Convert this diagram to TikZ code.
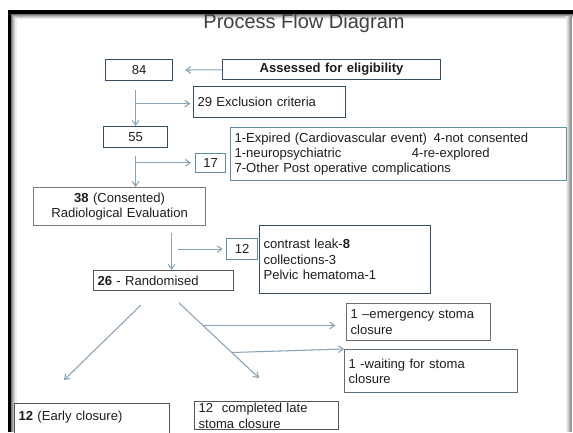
\documentclass[tikz,border=0pt]{standalone}
\usepackage{fontspec}
\setmainfont{Liberation Sans}
\usetikzlibrary{arrows.meta,positioning,calc}
\definecolor{linkcol}{RGB}{138,163,184}
\definecolor{navybox}{RGB}{52,78,106}
\definecolor{tealbox}{RGB}{96,142,162}
\definecolor{greybox}{RGB}{128,118,118}
\definecolor{darkbox}{RGB}{85,85,85}
\definecolor{slatebox}{RGB}{92,112,130}
\definecolor{txt}{RGB}{30,30,30}
\newcommand{\boxfont}{\fontsize{9.8}{11.6}\selectfont\spaceskip=3.5pt plus 1pt minus 0.5pt\relax}
\tikzset{
box/.style = {draw=navybox, fill=white, line width=0.9pt, anchor=north west, inner xsep=3pt, inner ysep=2pt, font=\boxfont, text=txt},
wd/.style = {text width=#1*0.75pt-6pt},
ht/.style = {minimum height=#1*0.75pt},
lbox/.style = {align=left},
cbox/.style = {align=center},
link/.style = {draw=linkcol, line width=0.8pt, -{Straight Barb[length=3.5pt,width=5pt]}}
}
\begin{document}
\begin{tikzpicture}[x=0.75pt,y=-0.75pt]
    \useasboundingbox (0,0) rectangle (573,432);
    \clip (0,0) rectangle (573,432);
    \fill[white] (0,0) rectangle (573,432);

    % frame and shadow
    \foreach \k/\shade in {1/55,2/40,3/27,4/16,5/8}
        \draw[black!\shade, line width=0.8pt] (11+\k,432) -- (11+\k,13.5+\k) -- (573,13.5+\k);
    \foreach \k/\shade in {1/6,2/12,3/20,4/30,5/40}
        \draw[black!\shade, line width=0.8pt] (566+\k,16) -- (566+\k,432);
    \draw[black, line width=2.4pt] (9.5,432) -- (9.5,12) -- (573,12);

    \node[font=\fontsize{15}{18}\selectfont, text=txt!85] (title) at (304,23) {Process Flow Diagram};

    \node[box, wd=67, ht=21, cbox] (n84) at (105,59) {84};
    \node[box, wd=218, ht=20, cbox] (assess) at (222,59) {\textbf{Assessed for eligibility}};
    \node[box, wd=152, ht=31, lbox] (excl) at (193,86) {29 Exclusion criteria};
    \node[box, wd=64, ht=21, cbox] (n55) at (103,126) {55};
    \node[box, wd=30, ht=19, cbox, draw=tealbox] (n17) at (195,153) {17};
    \node[box, wd=336, ht=53, lbox, draw=tealbox] (expired) at (230,127)
        {1-Expired (Cardiovascular event)\hspace{5pt}4-not consented\\
         \makebox[133pt][l]{1-neuropsychiatric}4-re-explored\\
         7-Other Post operative complications};
    \node[box, wd=172, ht=38, cbox, draw=greybox] (n38) at (33,187) {\textbf{38} (Consented)\\Radiological Evaluation};
    \node[box, wd=31, ht=21, cbox, draw=tealbox] (n12) at (226,238) {12};
    \node[box, wd=171, ht=68, lbox] (leak) at (259,225) {contrast leak-\textbf{8}\\collections-3\\Pelvic hematoma-1};
    \node[box, wd=140, ht=20, lbox, draw=darkbox] (n26) at (93,270) {\textbf{26} - Randomised};
    \node[box, wd=144, ht=37, lbox, draw=darkbox!85] (emerg) at (346,303) {1 --emergency stoma\\closure};
    \node[box, wd=173, ht=43, lbox, draw=slatebox] (wait) at (344,349) {1 -waiting for stoma\\closure};
    \node[box, wd=155, lbox, draw=darkbox, inner ysep=5.5pt] (early) at (14,403) {\textbf{12} (Early closure)\\ \strut};
    \node[box, wd=144, ht=28, lbox, draw=darkbox, inner ysep=0.5pt] (late) at (194,401) {12~ completed late\\stoma closure};

    \draw[link, shorten >=9pt] (assess) -- (n84);

    \draw[link, shorten <=6.75pt] (n55.north |- n84.south) -- (n55.north);
    \coordinate (j1) at ($(n55.north |- n84.south)!0.5!(n55.north)$);
    \draw[link, shorten >=2pt] (j1) -- (j1 -| excl.west);

    \draw[link, shorten <=6pt] (n55.south) -- (n55.south |- n38.north);
    \coordinate (j2) at ($(n55.south)!0.375!(n55.south |- n38.north)$);
    \draw[link, shorten >=3pt] (j2) -- (j2 -| n17.west);

    \coordinate (v3) at ($(n38.south west)!0.8!(n38.south east)$);
    \draw[link, shorten <=5pt] (v3) -- (v3 |- n26.north);
    \draw[link, shorten <=4.5pt, shorten >=2.5pt] (v3 |- n12.west) -- (n12.west);

    \coordinate (d1) at (141,305);
    \coordinate (d2) at (64,380);
    \coordinate (d3) at (179,303);
    \coordinate (d4) at (259,378);
    \draw[link] (d1) -- (d2);
    \draw[link] (d3) -- (d4);
    \coordinate (b1) at ($(d3)!0.3!(d4)$);
    \coordinate (b2) at ($(d3)!0.66!(d4)$);
    \draw[link, shorten >=8pt] (b1) -- (b1 -| emerg.west);
    \draw[link] (b2) -- (wait.north west);
\end{tikzpicture}
\end{document}
